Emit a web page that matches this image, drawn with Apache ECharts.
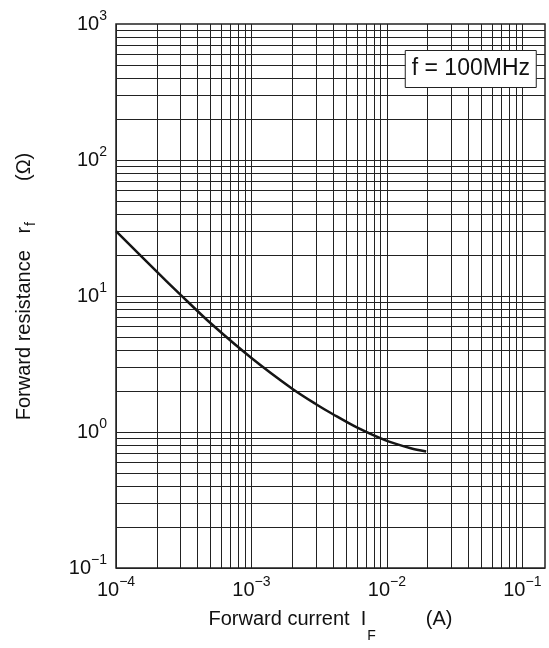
<!DOCTYPE html>
<html>
<head>
<meta charset="utf-8">
<script src="https://cdn.jsdelivr.net/npm/echarts@6/dist/echarts.min.js"></script>
<style>
    html, body { margin: 0; padding: 0; background: #fff; }
    #chart { width: 549px; height: 648px; }
</style>
</head>
<body>
<div id="chart"></div>
<script>
    // forward current I_F (A)
    var currentA = [1e-4, 2e-4, 3e-4, 5e-4, 1e-3, 2e-3, 3e-3, 4e-3, 6e-3, 1e-2, 1.5e-2, 1.95e-2];
    // forward resistance r_f (ohm)
    var resistance = [30, 15.1, 10.2, 6.3, 3.5, 2.08, 1.6, 1.35, 1.08, 0.86, 0.76, 0.72];
    // decades shown as tick labels / grid
    var xDecades = [-4, -3, -2];
    var yDecades = [-1, 0, 1, 2];
    var xRange = [1e-4, 0.147];
    var yRange = [0.1, 1000];
    var noteText = 'f = 100MHz';

    var font = "'Liberation Sans', Arial, sans-serif";

    // grid lines at 1..9 x 10^k
    var gridLines = [];
    xDecades.forEach(function (k) {
        for (var m = 1; m <= 9; m++) gridLines.push({ xAxis: m * Math.pow(10, k) });
    });
    gridLines.push({ xAxis: Math.pow(10, xDecades[xDecades.length - 1] + 1) });
    yDecades.forEach(function (k) {
        for (var m = 1; m <= 9; m++) gridLines.push({ yAxis: m * Math.pow(10, k) });
    });

    function powLabel(value) {
        var lg = Math.log10(value);
        var e = Math.round(lg);
        if (Math.abs(lg - e) > 0.01) return '';
        return '{b|10}{s|' + (e < 0 ? '\u2212' + (-e) : e) + '}';
    }

    var powRich = {
        b: { fontSize: 20, lineHeight: 20, color: '#111', fontFamily: font },
        s: { fontSize: 14, lineHeight: 14, padding: [0, 0, 16, 0], color: '#111', fontFamily: font }
    };

    var myChart = echarts.init(document.getElementById('chart'));
    var option = {
        animation: false,
        backgroundColor: '#fff',
        title: {
            text: noteText,
            right: 12,
            top: 50,
            padding: [7, 7],
            borderColor: '#222',
            borderWidth: 1,
            backgroundColor: '#fff',
            textStyle: { fontSize: 23, lineHeight: 24, fontWeight: 'normal', color: '#111', fontFamily: font }
        },
        grid: {
            left: 116,
            top: 24,
            right: 4,
            bottom: 80,
            outerBoundsMode: 'none',
            containLabel: false,
            show: true,
            borderColor: '#222',
            borderWidth: 1.5,
            backgroundColor: 'transparent'
        },
        xAxis: {
            type: 'log',
            logBase: 10,
            min: xRange[0],
            max: xRange[1],
            axisLine: { show: false },
            axisTick: { show: false },
            splitLine: { show: false },
            axisLabel: {
                margin: 12,
                formatter: powLabel,
                rich: powRich
            },
            name: 'Forward current  I{sub|F}{t|(A)}',
            nameLocation: 'middle',
            nameGap: 41,
            nameMoveOverlap: false,
            nameTextStyle: {
                fontSize: 20,
                lineHeight: 20,
                color: '#111',
                fontFamily: font,
                rich: {
                    sub: { fontSize: 14, lineHeight: 14, padding: [34, 50, 0, 1], color: '#111', fontFamily: font },
                    t: { fontSize: 20, lineHeight: 20, color: '#111', fontFamily: font }
                }
            }
        },
        yAxis: {
            type: 'log',
            logBase: 10,
            min: yRange[0],
            max: yRange[1],
            axisLine: { show: false },
            axisTick: { show: false },
            splitLine: { show: false },
            axisLabel: {
                margin: 9,
                formatter: powLabel,
                rich: powRich
            },
            name: 'Forward resistance   r{sub|f}{t|(\u03a9)}',
            nameLocation: 'middle',
            nameGap: 82,
            nameMoveOverlap: false,
            nameTextStyle: {
                fontSize: 20,
                lineHeight: 20,
                color: '#111',
                fontFamily: font,
                padding: [0, 0, 0, 19],
                rich: {
                    sub: { fontSize: 14, lineHeight: 14, padding: [14, 41, 0, 1], color: '#111', fontFamily: font },
                    t: { fontSize: 20, lineHeight: 20, color: '#111', fontFamily: font }
                }
            }
        },
        series: [{
            type: 'line',
            data: currentA.map(function (x, i) { return [x, resistance[i]]; }),
            smooth: 0.3,
            symbol: 'none',
            z: 3,
            lineStyle: { color: '#151515', width: 2.5 },
            markLine: {
                silent: true,
                z: 1,
                precision: 12,
                symbol: ['none', 'none'],
                label: { show: false },
                lineStyle: { color: '#222', width: 1, type: 'solid' },
                emphasis: { disabled: true },
                data: gridLines
            }
        }]
    };
    myChart.setOption(option);
    window.addEventListener('resize', function () {
        myChart.resize();
    });
</script>
</body>
</html>
